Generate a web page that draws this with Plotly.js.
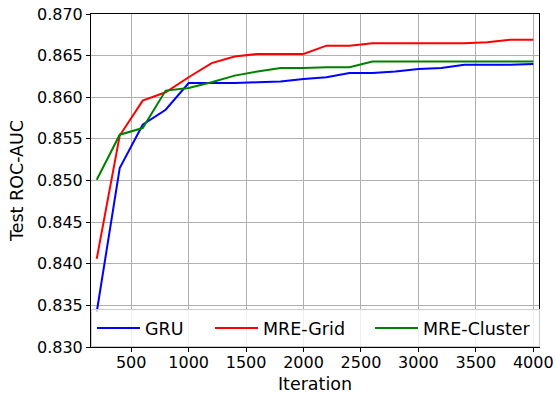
<!DOCTYPE html>
<html>
<head>
<meta charset="utf-8">
<script src="https://cdn.plot.ly/plotly-3.0.1.min.js"></script>
<style>html,body{margin:0;padding:0;background:#fff;}#chart{width:556px;height:394px;}</style>
</head>
<body>
<div id="chart"></div>
<script>
const iterations = [200,400,600,800,1000,1200,1400,1600,1800,2000,2200,2400,2600,2800,3000,3200,3400,3600,3800,4000];
const gru = [0.8342,0.8515,0.8567,0.8585,0.8617,0.8617,0.8617,0.8618,0.8619,0.8622,0.8624,0.8629,0.8629,0.8631,0.8634,0.8635,0.8639,0.8639,0.8639,0.8640];
const mreGrid = [0.8406,0.8554,0.8596,0.8606,0.8624,0.8641,0.8649,0.8652,0.8652,0.8652,0.8662,0.8662,0.8665,0.8665,0.8665,0.8665,0.8665,0.8666,0.8669,0.8669];
const mreCluster = [0.8501,0.8555,0.8563,0.8608,0.8611,0.8618,0.8626,0.8631,0.8635,0.8635,0.8636,0.8636,0.8643,0.8643,0.8643,0.8643,0.8643,0.8643,0.8643,0.8643];
const seriesNames = ['GRU','MRE-Grid','MRE-Cluster'];
const xTicks = [500,1000,1500,2000,2500,3000,3500,4000];
const yTicks = [0.830,0.835,0.840,0.845,0.850,0.855,0.860,0.865,0.870];

const tickFont = {family: 'DejaVu Sans, sans-serif', size: 16, color: '#000'};
const bigFont = {family: 'DejaVu Sans, sans-serif', size: 17.5, color: '#000'};
const traces = [
  {x: iterations, y: gru, name: seriesNames[0], mode: 'lines', line: {color: '#0000ff', width: 2}, legendwidth: 60},
  {x: iterations, y: mreGrid, name: seriesNames[1], mode: 'lines', line: {color: '#ff0000', width: 2}, legendwidth: 102},
  {x: iterations, y: mreCluster, name: seriesNames[2], mode: 'lines', line: {color: '#008000', width: 2}, legendwidth: 111}
];
const axisCommon = {
  showline: true, mirror: true, linecolor: '#000', linewidth: 1,
  showgrid: true, gridcolor: '#b0b0b0', gridwidth: 1,
  ticks: 'outside', ticklen: 4, tickwidth: 1, tickcolor: '#000',
  zeroline: false, tickfont: tickFont
};
const layout = {
  width: 556, height: 394,
  margin: {l: 91, r: 17, t: 14, b: 47},
  paper_bgcolor: '#fff', plot_bgcolor: '#fff',
  font: tickFont,
  showlegend: true,
  xaxis: Object.assign({}, axisCommon, {
    range: [150, 4050], tickvals: xTicks, ticktext: xTicks.map(String),
    ticklabelstandoff: -3,
    title: {text: 'Iteration', font: bigFont, standoff: 7}
  }),
  yaxis: Object.assign({}, axisCommon, {
    range: [0.830, 0.870], tickvals: yTicks, ticktext: yTicks.map(v => v.toFixed(3)),
    title: {text: 'Test ROC-AUC', font: bigFont, standoff: 8}
  }),
  legend: {
    orientation: 'h', x: 0, y: 0, xanchor: 'left', yanchor: 'bottom',
    bgcolor: 'rgba(255,255,255,0.8)', bordercolor: '#cccccc', borderwidth: 1,
    font: bigFont, entrywidthmode: 'pixels', itemwidth: 43
  }
};
Plotly.newPlot('chart', traces, layout, {displayModeBar: false, staticPlot: true});
</script>
</body>
</html>
